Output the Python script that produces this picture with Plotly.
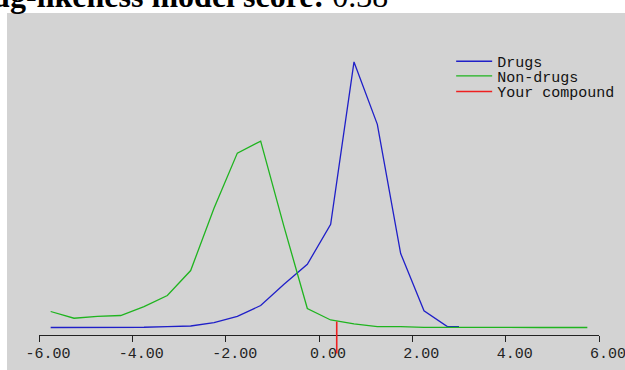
import plotly.graph_objects as go

# ---- data ----
score_x = [-5.75, -5.25, -4.75, -4.25, -3.75, -3.25, -2.75, -2.25, -1.75, -1.25,
           -0.75, -0.25, 0.25, 0.75, 1.25, 1.75, 2.25, 2.75, 3.25, 3.75, 4.25,
           4.75, 5.25, 5.75]

drugs_x = [-5.75, -5.25, -4.75, -4.25, -3.75, -3.25, -2.75, -2.25, -1.75, -1.25,
           -0.75, -0.25, 0.25, 0.75, 1.25, 1.75, 2.25, 2.75, 3.0]
drugs_y = [0.0, 0.0, 0.0, 0.0, 0.03, 0.12, 0.19, 0.62, 1.38, 2.75,
           5.4, 7.9, 12.9, 33.2, 25.4, 9.25, 2.1, 0.12, 0.12]

nondrugs_y = [2.0, 1.16, 1.38, 1.5, 2.62, 4.0, 7.12, 14.9, 21.8, 23.3,
              12.6, 2.38, 0.94, 0.44, 0.12, 0.12, 0.02, 0.0, 0.0, 0.0, 0.0,
              0.0, 0.0, 0.0]

compound_score = 0.38
compound_line_y = [0.75, -3.25]

tick_values = [-6, -4, -2, 0, 2, 4, 6]
tick_labels = ["-6.00", "-4.00", "-2.00", "0.00", "2.00", "4.00", "6.00"]

series_names = ["Drugs", "Non-drugs", "Your compound"]
title_bold = "Drug-likeness model score:"
title_value = "0.38"

# ---- figure ----
BLUE = "#1f1fc8"
GREEN = "#1fb41f"
RED = "#ee2020"
GRAY = "#d3d3d3"
AXIS = "#222222"
MONO = "Liberation Mono"

fig = go.Figure()
fig.add_trace(go.Scatter(x=drugs_x, y=drugs_y, mode="lines", name=series_names[0],
                         line=dict(color=BLUE, width=1.3), legend="legend"))
fig.add_trace(go.Scatter(x=score_x, y=nondrugs_y, mode="lines", name=series_names[1],
                         line=dict(color=GREEN, width=1.3), legend="legend2"))
fig.add_trace(go.Scatter(x=[compound_score, compound_score], y=compound_line_y,
                         mode="lines", name=series_names[2],
                         line=dict(color=RED, width=1.6), legend="legend3"))

H_TOP, H_BOT = 13, 360          # plot area in px
PLOT_H = H_BOT - H_TOP
PX_PER_UNIT = 8.0
ymax = (327.5 - H_TOP) / PX_PER_UNIT
ymin = ymax - PLOT_H / PX_PER_UNIT


def py(row):
    return (H_BOT - row) / PLOT_H


leg_common = dict(xanchor="left", yanchor="middle", bgcolor="rgba(0,0,0,0)",
                  borderwidth=0, font=dict(family=MONO, size=15, color="#111111"),
                  x=0.736, itemwidth=36)

fig.update_layout(
    width=625, height=370, autosize=False,
    margin=dict(l=39, r=26, t=H_TOP, b=370 - H_BOT, pad=0, autoexpand=False),
    paper_bgcolor="white", plot_bgcolor=GRAY,
    showlegend=True,
    legend=dict(y=py(61.5), **leg_common),
    legend2=dict(y=py(76.2), **leg_common),
    legend3=dict(y=py(91.8), **leg_common),
    xaxis=dict(range=[-6, 6], tickvals=tick_values, ticktext=tick_labels,
               ticks="outside", ticklen=6, tickwidth=1, tickcolor=AXIS,
               showline=True, linecolor=AXIS, linewidth=1,
               anchor="free", position=py(334.5), showgrid=False, zeroline=False,
               ticklabelshift=9, ticklabelstandoff=-2, ticklabeloverflow="allow",
               automargin=False,
               tickfont=dict(family=MONO, size=15, color=AXIS),
               layer="below traces", fixedrange=True),
    yaxis=dict(range=[ymin, ymax], visible=False, showgrid=False, zeroline=False,
               fixedrange=True),
    shapes=[dict(type="rect", xref="paper", yref="paper", layer="below",
                 x0=(7 - 39) / 560, x1=1.08, y0=-0.1, y1=1.0,
                 fillcolor=GRAY, line=dict(width=0))],
    annotations=[dict(text="<b>" + title_bold + "</b> " + title_value,
                      xref="paper", yref="paper", x=(-47 - 39) / 560, y=py(-3.5),
                      xanchor="left", yanchor="middle", showarrow=False,
                      font=dict(family="Liberation Serif", size=32, color="black"))],
)

fig.write_html("out.html", config={"displayModeBar": False},
               post_script="document.body.style.margin='0';")
